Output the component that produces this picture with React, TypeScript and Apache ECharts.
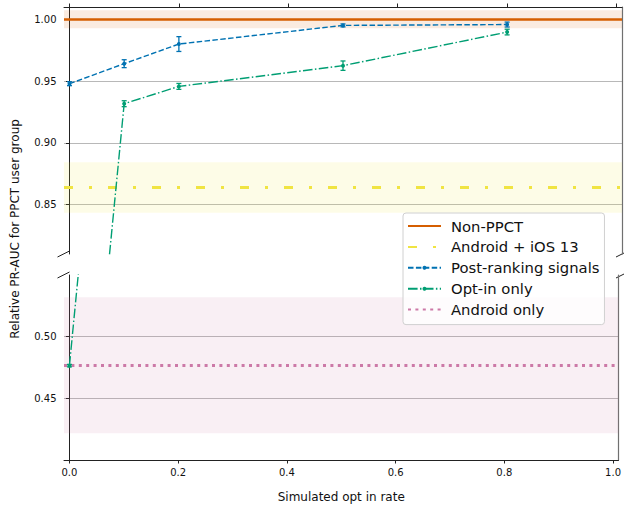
import React, { useEffect, useRef } from "react";
import * as echarts from "echarts";

const optInRates = [0, 0.1, 0.2, 0.5, 0.8];
const postRanking = [0.9479, 0.9641, 0.98, 0.9951, 0.9958];
const postRankingErr = [0.0016, 0.0032, 0.006, 0.0012, 0.002];
const optInOnly = [0.4765, 0.9317, 0.9457, 0.9625, 0.9897];
const optInErr = [0.001, 0.0024, 0.0024, 0.0038, 0.0023];

const nonPpct = 1.0;
const nonPpctBand = [0.9927, 1.0073];
const androidIos13 = 0.864;
const androidIos13Band = [0.8433, 0.8843];
const androidOnly = 0.4765;
const androidOnlyBand = [0.4216, 0.532];

const xTicks = [0, 0.2, 0.4, 0.6, 0.8, 1.0];
const yTicksTop = [0.85, 0.9, 0.95, 1.0];
const yTicksBottom = [0.45, 0.5];

const C_ORANGE = "#d55e00";
const C_YELLOW = "#f0e442";
const C_BLUE = "#0072b2";
const C_GREEN = "#009e73";
const C_PINK = "#cc79a7";

const FONT = "DejaVu Sans";

export default function App() {
  const ref = useRef<HTMLDivElement>(null);

  useEffect(() => {
    if (!ref.current) return;
    const chart = echarts.init(ref.current, null, { renderer: "svg" });

    const pts = (ys: number[]) => optInRates.map((x, i) => [x, ys[i]]);
    const errPts = (ys: number[], es: number[]) =>
      optInRates.map((x, i) => [x, ys[i], es[i]]);

    const errSeries = (name: string, ys: number[], es: number[], color: string, gi: number) => ({
      name,
      type: "custom",
      xAxisIndex: gi,
      yAxisIndex: gi,
      clip: true,
      z: 4,
      data: errPts(ys, es),
      renderItem: (params: any, api: any) => {
        const x = api.value(0);
        const y = api.value(1);
        const e = api.value(2);
        const top = api.coord([x, y + e]);
        const bot = api.coord([x, y - e]);
        const cw = 2.5;
        const st = { stroke: color, lineWidth: 1.3 };
        return {
          type: "group",
          children: [
            { type: "line", shape: { x1: top[0], y1: top[1], x2: bot[0], y2: bot[1] }, style: st },
            { type: "line", shape: { x1: top[0] - cw, y1: top[1], x2: top[0] + cw, y2: top[1] }, style: st },
            { type: "line", shape: { x1: bot[0] - cw, y1: bot[1], x2: bot[0] + cw, y2: bot[1] }, style: st },
          ],
        };
      },
    });

    const refSeries = (
      name: string,
      value: number,
      band: number[],
      color: string,
      bandColor: string,
      width: number,
      dash: any,
      gi: number
    ) => ({
      name,
      type: "line",
      xAxisIndex: gi,
      yAxisIndex: gi,
      data: [],
      symbol: "none",
      color,
      lineStyle: { color, width, type: dash },
      itemStyle: { color },
      markLine: {
        silent: true,
        precision: 6,
        symbol: ["none", "none"],
        label: { show: false },
        lineStyle: { color, width, type: dash },
        data: [{ yAxis: value }],
        z: 3,
      },
      markArea: {
        silent: true,
        precision: 6,
        itemStyle: { color: bandColor },
        data: [[{ yAxis: band[0] }, { yAxis: band[1] }]],
      },
    });

    const lineSeries = (name: string, ys: number[], color: string, dash: any, gi: number) => ({
      name,
      type: "line",
      xAxisIndex: gi,
      yAxisIndex: gi,
      data: pts(ys),
      clip: true,
      color,
      symbol: "circle",
      symbolSize: 4,
      showSymbol: true,
      z: 5,
      lineStyle: { color, width: 1.4, type: dash },
      itemStyle: { color },
    });

    const axisText = { fontFamily: FONT, fontSize: 10, color: "#111" };

    const yAxisLeft = (gi: number, min: number, max: number, ticks: number[]) => ({
      type: "value",
      gridIndex: gi,
      position: "left",
      min,
      max,
      axisLine: { show: true, lineStyle: { color: "#222", width: 1 } },
      axisTick: { show: true, inside: false, length: 3.5, customValues: ticks, lineStyle: { color: "#222" } },
      axisLabel: { show: true, ...axisText, margin: 7.5, customValues: ticks, formatter: (v: number) => v.toFixed(2) },
      splitLine: { show: true, lineStyle: { color: "#b8b8b8", width: 1 } },
    });
    const yAxisRight = (gi: number, min: number, max: number) => ({
      type: "value",
      gridIndex: gi,
      position: "right",
      min,
      max,
      axisLine: { show: true, lineStyle: { color: "#707070", width: 1.2 } },
      axisTick: { show: false },
      axisLabel: { show: false },
      splitLine: { show: false },
    });

    const hideSym = { itemStyle: { opacity: 0 } };

    const option: any = {
      animation: false,
      textStyle: { fontFamily: FONT },
      grid: [
        { left: 64, right: 2, top: 7, height: 247 },
        { left: 64, right: 2, top: 275, height: 185 },
      ],
      xAxis: [
        {
          type: "value",
          gridIndex: 0,
          position: "top",
          min: -0.01,
          max: 1.01,
          axisLine: { show: true, lineStyle: { color: "#222", width: 1 } },
          axisTick: { show: true, inside: false, length: 3.5, customValues: xTicks, lineStyle: { color: "#222" } },
          axisLabel: { show: false },
          splitLine: { show: false },
        },
        {
          type: "value",
          gridIndex: 1,
          position: "bottom",
          min: -0.01,
          max: 1.01,
          name: "Simulated opt in rate",
          nameLocation: "middle",
          nameGap: 31,
          nameTextStyle: { fontFamily: FONT, fontSize: 12, color: "#111" },
          axisLine: { show: true, lineStyle: { color: "#222", width: 1 } },
          axisTick: { show: true, inside: false, length: 3.5, customValues: xTicks, lineStyle: { color: "#222" } },
          axisLabel: { show: true, ...axisText, margin: 7, customValues: xTicks, formatter: (v: number) => v.toFixed(1) },
          splitLine: { show: false },
        },
      ],
      yAxis: [
        yAxisLeft(0, 0.81, 1.01, yTicksTop),
        yAxisLeft(1, 0.4, 0.55, yTicksBottom),
        yAxisRight(0, 0.81, 1.01),
        yAxisRight(1, 0.4, 0.55),
      ],
      legend: {
        left: 403,
        top: 213,
        orient: "vertical",
        itemWidth: 33,
        itemHeight: 5,
        itemGap: 5.9,
        padding: [5.5, 5, 7.5, 4],
        backgroundColor: "rgba(255,255,255,0.8)",
        borderColor: "#d0d0d0",
        borderWidth: 1,
        borderRadius: 3,
        textStyle: { fontFamily: FONT, fontSize: 14.8, color: "#111", padding: [0, 0, 0, 5] },
        data: [
          { name: "Non-PPCT", ...hideSym },
          { name: "Android + iOS 13", ...hideSym },
          { name: "Post-ranking signals" },
          { name: "Opt-in only" },
          { name: "Android only", ...hideSym },
        ],
      },
      graphic: [
        {
          type: "text",
          x: 15,
          y: 229,
          rotation: Math.PI / 2,
          style: {
            text: "Relative PR-AUC for PPCT user group",
            fontFamily: FONT,
            fontSize: 12,
            fill: "#111",
            align: "center",
            verticalAlign: "middle",
          },
        },
        { type: "line", shape: { x1: 57.5, y1: 257, x2: 69.5, y2: 251 }, style: { stroke: "#222", lineWidth: 1 } },
        { type: "line", shape: { x1: 57.5, y1: 278, x2: 69.5, y2: 272 }, style: { stroke: "#222", lineWidth: 1 } },
        { type: "line", shape: { x1: 616, y1: 257, x2: 628, y2: 251 }, style: { stroke: "#222", lineWidth: 1 } },
        { type: "line", shape: { x1: 616, y1: 278, x2: 628, y2: 272 }, style: { stroke: "#222", lineWidth: 1 } },
      ],
      series: [
        refSeries("Non-PPCT", nonPpct, nonPpctBand, C_ORANGE, "rgba(213,94,0,0.12)", 2.6, "solid", 0),
        refSeries("Android + iOS 13", androidIos13, androidIos13Band, C_YELLOW, "rgba(240,228,66,0.13)", 3, [9, 16, 3, 16], 0),
        lineSeries("Post-ranking signals", postRanking, C_BLUE, [5.5, 2.4], 0),
        lineSeries("Opt-in only", optInOnly, C_GREEN, [9.6, 2.4, 1.5, 2.4], 0),
        lineSeries("Opt-in only", optInOnly, C_GREEN, [9.6, 2.4, 1.5, 2.4], 1),
        refSeries("Android only", androidOnly, androidOnlyBand, C_PINK, "rgba(204,121,167,0.12)", 3, [3, 4.4], 1),
        errSeries("Post-ranking signals", postRanking, postRankingErr, C_BLUE, 0),
        errSeries("Opt-in only", optInOnly, optInErr, C_GREEN, 0),
        errSeries("Opt-in only", optInOnly, optInErr, C_GREEN, 1),
      ],
    };

    chart.setOption(option);
    return () => chart.dispose();
  }, []);

  return (
    <div
      ref={ref}
      style={{ position: "fixed", left: 0, top: 0, width: 624, height: 508, background: "#fff" }}
    />
  );
}
